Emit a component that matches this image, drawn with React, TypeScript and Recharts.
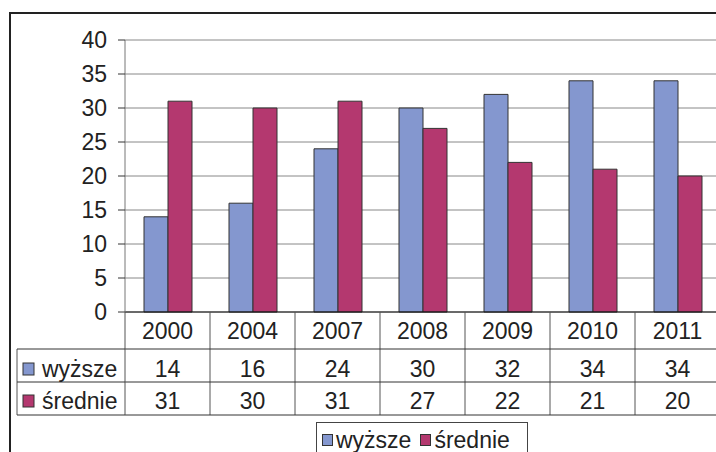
import { Bar, BarChart, CartesianGrid, XAxis, YAxis } from "recharts";

const years = ["2000", "2004", "2007", "2008", "2009", "2010", "2011"];
const wyzsze = [14, 16, 24, 30, 32, 34, 34];
const srednie = [31, 30, 31, 27, 22, 21, 20];
const seriesNames = ["wyższe", "średnie"];
const yTicks = [0, 5, 10, 15, 20, 25, 30, 35, 40];

const COLORS = ["#8497cf", "#b4386f"];
const FONT = "'Liberation Sans', Arial, sans-serif";
const FS = 23;

const data = years.map((year, i) => ({
  year,
  wyzsze: wyzsze[i],
  srednie: srednie[i],
}));

const rows = [wyzsze, srednie];

// the data table under the plot, drawn one column per x tick
function TableTick(props: any) {
  const { x, y, payload, index } = props;
  const half = payload?.offset || 42.5;
  const left = x - half;
  const right = x + half;
  const lineY = [y + 37, y + 70, y + 103];
  const textY = [y + 19, y + 57, y + 89];
  return (
    <g>
      <line x1={right} y1={y} x2={right} y2={y + 103} stroke="#555" />
      {lineY.map((ly) => (
        <line key={ly} x1={left} y1={ly} x2={right} y2={ly} stroke="#333" />
      ))}
      <text x={x} y={textY[0]} textAnchor="middle" dominantBaseline="central" fill="#222" fontSize={FS} fontFamily={FONT}>
        {payload.value}
      </text>
      {rows.map((r, ri) => (
        <text key={ri} x={x} y={textY[ri + 1]} textAnchor="middle" dominantBaseline="central" fill="#222" fontSize={FS} fontFamily={FONT}>
          {r[index]}
        </text>
      ))}
      {index === 0 && (
        <g>
          <line x1={left} y1={y} x2={left} y2={y + 103} stroke="#555" />
          <line x1={17} y1={lineY[0]} x2={17} y2={lineY[2]} stroke="#555" />
          {lineY.map((ly) => (
            <line key={ly} x1={17} y1={ly} x2={left} y2={ly} stroke="#333" />
          ))}
          {seriesNames.map((name, si) => (
            <g key={name}>
              <rect x={23} y={textY[si + 1] - 6} width={11} height={12} fill={COLORS[si]} stroke="#333" />
              <text x={42} y={textY[si + 1]} dominantBaseline="central" fill="#222" fontSize={FS} fontFamily={FONT}>
                {name}
              </text>
            </g>
          ))}
        </g>
      )}
    </g>
  );
}

export default function App() {
  return (
    <div style={{ position: "absolute", left: 0, top: 0, width: 716, height: 452, overflow: "hidden", background: "#fff", fontFamily: FONT }}>
      <div style={{ position: "absolute", left: 9, top: 12, width: 760, height: 500, borderLeft: "2px solid #222", borderTop: "2px solid #222" }} />
      <div style={{ position: "absolute", left: 0, top: 0 }}>
        <BarChart
          width={730}
          height={452}
          data={data}
          margin={{ top: 40, right: 10, left: 65, bottom: 37 }}
          barGap={0}
          barSize={24}
        >
          <CartesianGrid stroke="#888" vertical={false} />
          <XAxis
            dataKey="year"
            height={103}
            interval={0}
            tickLine={false}
            tickSize={0}
            tickMargin={0}
            axisLine={{ stroke: "#111" }}
            tick={<TableTick />}
          />
          <YAxis
            width={60}
            domain={[0, 40]}
            ticks={yTicks}
            interval={0}
            tickSize={7}
            tickMargin={11}
            axisLine={{ stroke: "#777" }}
            tickLine={{ stroke: "#333" }}
            tick={{ fill: "#222", fontSize: FS, fontFamily: FONT }}
          />
          <Bar dataKey="wyzsze" name={seriesNames[0]} fill={COLORS[0]} stroke="#333" isAnimationActive={false} />
          <Bar dataKey="srednie" name={seriesNames[1]} fill={COLORS[1]} stroke="#333" isAnimationActive={false} />
        </BarChart>
      </div>
      <div style={{ position: "absolute", left: 316, top: 422, width: 212, height: 40, border: "1px solid #444", background: "#fff", display: "flex", alignItems: "flex-start", paddingTop: 6, boxSizing: "border-box" }}>
        {seriesNames.map((name, i) => (
          <div key={name} style={{ display: "flex", alignItems: "center", height: 22, marginLeft: i === 0 ? 5 : 9 }}>
            <span style={{ display: "inline-block", width: 11, height: 12, background: COLORS[i], border: "1px solid #333", boxSizing: "border-box", marginRight: 3 }} />
            <span style={{ fontSize: FS, color: "#222", lineHeight: "22px" }}>{name}</span>
          </div>
        ))}
      </div>
    </div>
  );
}
